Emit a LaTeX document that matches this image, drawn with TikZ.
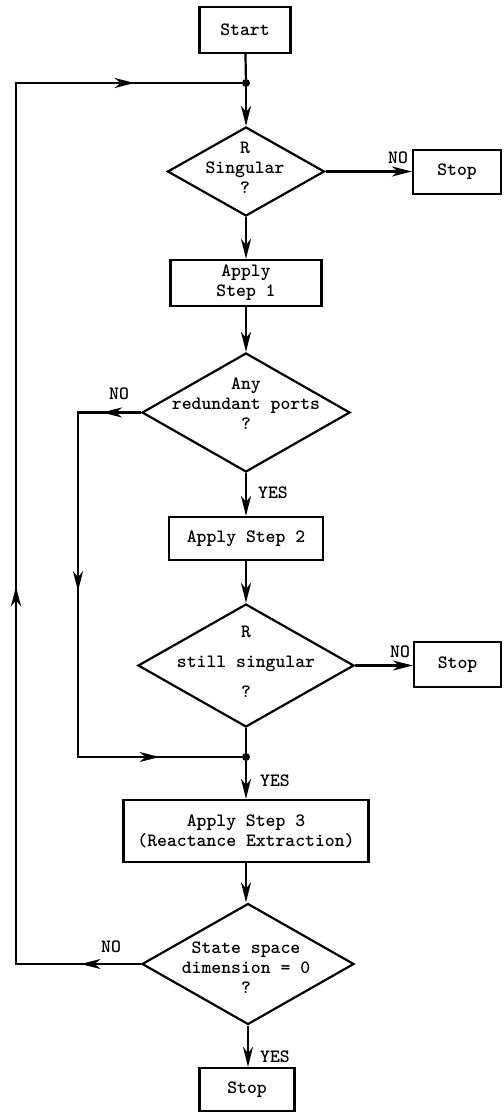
\documentclass[tikz,border=0pt]{standalone}
\usetikzlibrary{arrows.meta,shapes.geometric,decorations.markings}
\begin{document}
\begin{tikzpicture}[x=1pt,y=-1pt,
  every node/.style={font=\fontsize{18.8}{20}\selectfont\ttfamily\bfseries},
  ln/.style={line width=2.2pt},
  box/.style={draw, line width=2.2pt, inner sep=0pt, align=center},
  dia/.style={draw, diamond, line width=2.2pt, inner sep=0pt},
  txt/.style={align=center, inner sep=0pt},
  lab/.style={inner sep=0pt},
  tip/.style={-{Stealth[length=20pt,width=10pt,inset=6pt]}},
  midarr/.style={postaction={decorate, decoration={markings, mark=at position #1 with {\arrow{Stealth[length=20pt,width=10pt,inset=6pt]}}}}},
  dot/.style={circle, fill, inner sep=0pt, minimum size=8pt}
]
\useasboundingbox (0,0) rectangle (503,1113);

% boxes
\node[box, minimum width=91pt, minimum height=46pt] (start) at (245,30) {Start};
\node[dia, minimum width=157pt, minimum height=89pt] (d1) at (246,171.5) {};
\node[txt] (t1) at (245,168) {R\\Singular\\?};
\node[box, minimum width=88pt, minimum height=44pt] (stop1) at (457,172) {Stop};
\node[box, minimum width=151pt, minimum height=46pt] (a1) at (246,283) {Apply\\Step 1};
\node[dia, minimum width=208pt, minimum height=119pt] (d2) at (246,412.5) {};
\node[txt] (t2) at (246,404) {Any\\redundant ports\\?};
\node[box, minimum width=154pt, minimum height=43pt] (a2) at (246,538.5) {Apply Step 2};
\node[dia, minimum width=216pt, minimum height=123pt] (d3) at (246,665.5) {};
\node[txt] (t3) at (246,662) {R\\[10pt]still singular\\[10pt]?};
\node[box, minimum width=87pt, minimum height=45pt] (stop2) at (457.5,664.5) {Stop};
\node[box, minimum width=245pt, minimum height=62pt] (a3) at (246,831) {Apply Step 3\\(Reactance Extraction)};
\node[dia, minimum width=212pt, minimum height=121pt] (d4) at (248,964) {};
\node[txt] (t4) at (246,968) {State space\\dimension = 0\\?};
\node[box, minimum width=95pt, minimum height=43pt] (stop3) at (247,1089.5) {Stop};

% junctions and corners
\node[dot] (j1) at (246,83) {};
\node[dot] (j2) at (246,757) {};
\coordinate (c1) at (16,83);
\coordinate (c2) at (16,964);
\coordinate (c3) at (78,412.5);
\coordinate (c4) at (78,757);

% connectors
\draw[ln] (start) -- (j1);
\draw[ln,tip] (j1) -- (d1);
\draw[ln,tip] (d1.east) -- (d1.east -| stop1.west);
\draw[ln,tip] (d1) -- (a1);
\draw[ln,tip] (a1) -- (d2);
\draw[ln,tip] (d2) -- (a2);
\draw[ln,tip] (a2) -- (d3);
\draw[ln,tip] (d3.east) -- (d3.east -| stop2.west);
\draw[ln] (d3) -- (j2);
\draw[ln,tip] (j2) -- (a3);
\draw[ln,tip] (a3) -- (d4.north -| a3.south);
\draw[ln,tip] (d4.south) -- (d4.south |- stop3.north);
\draw[ln, line join=miter, midarr=0.068, midarr=0.423, midarr=0.856] (d2.west) -- (c3) -- (c4) -- (j2);
\draw[ln, line join=miter, midarr=0.049, midarr=0.408, midarr=0.913] (d4.west) -- (c2) -- (c1) -- (j1);

% labels
\node[lab] (no1) at (398,158) {NO};
\node[lab] (no2) at (119,394) {NO};
\node[lab] (no3) at (400,652) {NO};
\node[lab] (no4) at (111,947) {NO};
\node[lab] (yes1) at (273,493) {YES};
\node[lab] (yes2) at (275,781) {YES};
\node[lab] (yes3) at (275,1057) {YES};
\end{tikzpicture}
\end{document}
